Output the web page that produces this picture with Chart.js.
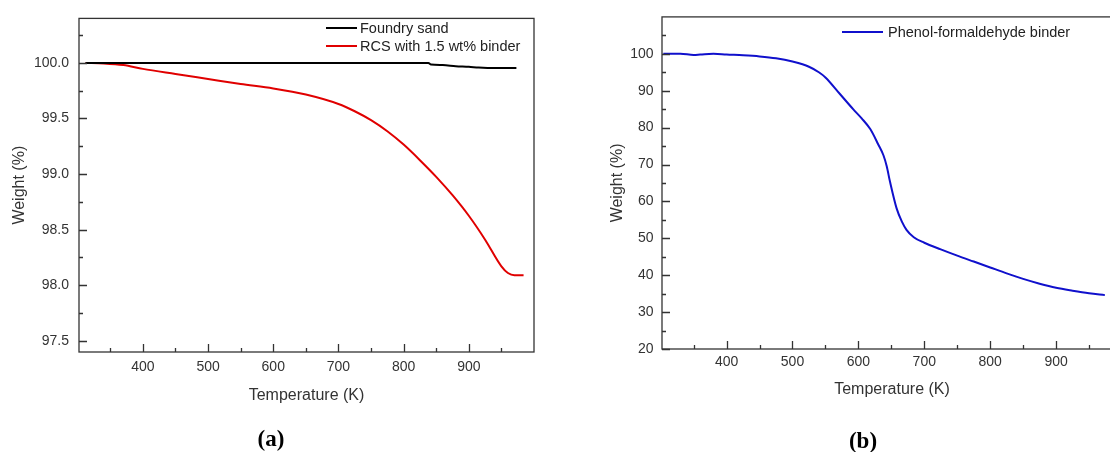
<!DOCTYPE html>
<html>
<head>
<meta charset="utf-8">
<script src="https://cdn.jsdelivr.net/npm/chart.js@4.4.1/dist/chart.umd.min.js"></script>
<style>
html, body { margin: 0; padding: 0; background: #fff; overflow: hidden; }
#wrap { position: relative; width: 1110px; height: 452px; overflow: hidden; }
#chartA { position: absolute; left: 0; top: 0; }
#chartB { position: absolute; left: 555px; top: 0; }
.panel { position: absolute; font: bold 23px "Liberation Serif", serif; color: #000; transform: translate(-50%, -50%); }
</style>
</head>
<body>
<div id="wrap">
  <canvas id="chartA" width="555" height="452"></canvas>
  <canvas id="chartB" width="600" height="452"></canvas>
  <div class="panel" style="left:271px; top:439px">(a)</div>
  <div class="panel" style="left:863px; top:441px">(b)</div>
</div>
<script>
// (a) foundry sand vs. resin coated sand
var sandTemp   = [312, 838, 842, 860, 880, 900, 915, 940, 973];
var sandWeight = [100.0, 100.0, 99.985, 99.98, 99.97, 99.965, 99.958, 99.953, 99.953];

var rcsTemp   = [312, 340, 370, 400, 450, 500, 550, 600, 650, 700, 725, 750, 775, 800,
                 825, 850, 875, 900, 925, 950, 960, 970, 984];
var rcsWeight = [100.0, 99.995, 99.98, 99.946, 99.90, 99.855, 99.81, 99.77, 99.715, 99.63, 99.565, 99.485, 99.385, 99.265,
                 99.125, 98.975, 98.81, 98.625, 98.41, 98.17, 98.11, 98.09, 98.09];

// (b) phenol-formaldehyde binder alone
var pfTemp   = [304, 330, 350, 360, 380, 400, 425, 450, 475, 500, 525, 540, 550, 572, 592, 605, 618, 630, 638, 643,
                648, 658, 666, 673, 684, 700, 725, 750, 775, 800, 825, 850, 875, 900, 925, 950, 974];
var pfWeight = [100.0, 100.0, 99.7, 99.8, 100.0, 99.8, 99.6, 99.3, 98.8, 97.9, 96.5, 95.0, 93.6, 89.1, 85.0, 82.5, 79.6, 75.5, 72.5, 69.5,
                65.3, 58.1, 54.5, 52.3, 50.3, 48.8, 47.0, 45.3, 43.7, 42.1, 40.5, 39.0, 37.7, 36.6, 35.8, 35.1, 34.6];

// axis ticks
var xTicks  = [400, 500, 600, 700, 800, 900];
var xMinor  = [350, 450, 550, 650, 750, 850, 950];
var aYTicks = [97.5, 98.0, 98.5, 99.0, 99.5, 100.0];
var aYMinor = [97.75, 98.25, 98.75, 99.25, 99.75, 100.25];
var bYTicks = [20, 30, 40, 50, 60, 70, 80, 90, 100];
var bYMinor = [25, 35, 45, 55, 65, 75, 85, 95, 105];

function toXY(t, w) {
  return t.map(function(v, i) { return { x: v, y: w[i] }; });
}

var tickFont  = { family: 'Liberation Sans', size: 14 };
var titleFont = { family: 'Liberation Sans', size: 16 };

// box around the plot with inward major/minor ticks
var framePlugin = {
  id: 'frame',
  afterDatasetsDraw: function(chart, args, opts) {
    var ctx = chart.ctx, a = chart.chartArea;
    var xs = chart.scales.x, ys = chart.scales.y;
    ctx.save();
    ctx.strokeStyle = '#333';
    ctx.lineWidth = 1.3;
    ctx.strokeRect(a.left, a.top, a.right - a.left, a.bottom - a.top);
    ctx.beginPath();
    function xMarks(vals, len) {
      vals.forEach(function(v) {
        var px = Math.round(xs.getPixelForValue(v)) + 0.5;
        ctx.moveTo(px, a.bottom);
        ctx.lineTo(px, a.bottom - len);
      });
    }
    function yMarks(vals, len) {
      vals.forEach(function(v) {
        var py = Math.round(ys.getPixelForValue(v)) + 0.5;
        ctx.moveTo(a.left, py);
        ctx.lineTo(a.left + len, py);
      });
    }
    xMarks(xTicks, 8);
    xMarks(xMinor, 4);
    yMarks(opts.yMajor, 8);
    yMarks(opts.yMinor, 4);
    ctx.stroke();
    ctx.restore();
  }
};

// legend drawn inside the plot area
var inLegendPlugin = {
  id: 'inLegend',
  afterDraw: function(chart, args, opts) {
    var ctx = chart.ctx;
    ctx.save();
    ctx.font = opts.fontSize + 'px "Liberation Sans"';
    ctx.textBaseline = 'middle';
    ctx.textAlign = 'left';
    chart.data.datasets.forEach(function(ds, i) {
      var y = opts.rows[i];
      ctx.strokeStyle = ds.borderColor;
      ctx.lineWidth = 2;
      ctx.beginPath();
      ctx.moveTo(opts.x, y);
      ctx.lineTo(opts.x + opts.len, y);
      ctx.stroke();
      ctx.fillStyle = '#222';
      ctx.fillText(ds.label, opts.x + opts.len + opts.gap, y + 1);
    });
    ctx.restore();
  }
};

function panelOptions(cfg) {
  return {
    responsive: false,
    animation: false,
    events: [],
    layout: { padding: cfg.padding },
    elements: {
      point: { radius: 0 },
      line: { borderWidth: 2, cubicInterpolationMode: 'monotone' }
    },
    plugins: {
      legend: { display: false },
      tooltip: { enabled: false },
      frame: { yMajor: cfg.yTicks, yMinor: cfg.yMinor },
      inLegend: cfg.legend
    },
    scales: {
      x: {
        type: 'linear', min: 302, max: 1000,
        grid: { display: false, drawTicks: false },
        border: { display: false },
        afterBuildTicks: function(s) { s.ticks = xTicks.map(function(v) { return { value: v }; }); },
        afterFit: function(s) { s.height = cfg.xHeight; },
        ticks: { color: '#333', font: tickFont, padding: cfg.xPad, autoSkip: false, maxRotation: 0 },
        title: { display: true, text: 'Temperature (K)', color: '#333', font: titleFont,
                 padding: { top: 0, bottom: cfg.xTitlePad } }
      },
      y: {
        type: 'linear', min: cfg.yMin, max: cfg.yMax,
        grid: { display: false, drawTicks: false },
        border: { display: false },
        afterBuildTicks: function(s) { s.ticks = cfg.yTicks.map(function(v) { return { value: v }; }); },
        afterFit: function(s) { s.width = cfg.yWidth; },
        ticks: { color: '#333', font: tickFont, padding: cfg.yPad, autoSkip: false, callback: cfg.yFormat },
        title: { display: true, text: 'Weight (%)', color: '#333', font: titleFont,
                 padding: { top: cfg.yTitlePad, bottom: 0 } }
      }
    }
  };
}

new Chart(document.getElementById('chartA'), {
  type: 'line',
  data: {
    datasets: [
      { label: 'Foundry sand', data: toXY(sandTemp, sandWeight), borderColor: '#000000', fill: false },
      { label: 'RCS with 1.5 wt% binder', data: toXY(rcsTemp, rcsWeight), borderColor: '#e00000', fill: false }
    ]
  },
  options: panelOptions({
    padding: { top: 17, right: 21, left: 0, bottom: 0 },
    xHeight: 100, xPad: 7, xTitlePad: 47,
    yWidth: 79, yPad: 10, yTitlePad: 10,
    yMin: 97.4, yMax: 100.4, yTicks: aYTicks, yMinor: aYMinor,
    yFormat: function(v) { return v.toFixed(1); },
    legend: { x: 326, rows: [28, 46], len: 31, gap: 3, fontSize: 14.5 }
  }),
  plugins: [framePlugin, inLegendPlugin]
});

new Chart(document.getElementById('chartB'), {
  type: 'line',
  data: {
    datasets: [
      { label: 'Phenol-formaldehyde binder', data: toXY(pfTemp, pfWeight), borderColor: '#1010cc', fill: false }
    ]
  },
  options: panelOptions({
    padding: { top: 14, right: 33, left: 0, bottom: 0 },
    xHeight: 103, xPad: 5, xTitlePad: 53,
    yWidth: 107, yPad: 8.5, yTitlePad: 53,
    yMin: 20, yMax: 110, yTicks: bYTicks, yMinor: bYMinor,
    yFormat: function(v) { return v; },
    legend: { x: 287, rows: [32], len: 41, gap: 5, fontSize: 14.5 }
  }),
  plugins: [framePlugin, inLegendPlugin]
});
</script>
</body>
</html>
